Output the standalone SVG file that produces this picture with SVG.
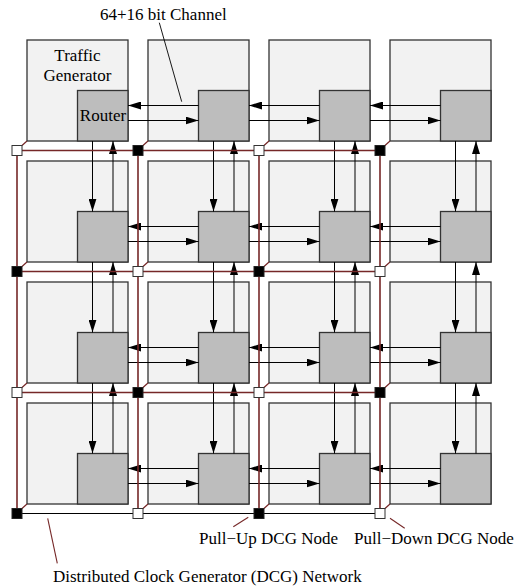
<svg xmlns="http://www.w3.org/2000/svg" width="524" height="586" viewBox="0 0 524 586">
<style>
.tile{fill:#f2f2f2;stroke:#333;stroke-width:1.3}
.rt{fill:#bdbdbd;stroke:#333;stroke-width:1.3}
.ch{stroke:#000;stroke-width:1;fill:none;marker-end:url(#ah)}
.dcg{stroke:#762828;stroke-width:1.6;fill:none}
.dcgb{stroke:#000;stroke-width:1.2;fill:none}
.diag{stroke:#762828;stroke-width:1.2}
.nw{fill:#fff;stroke:#333;stroke-width:1}
.nb{fill:#000;stroke:#222;stroke-width:1}
.lead{stroke:#000;stroke-width:0.9}
.leadr{stroke:#762828;stroke-width:1.1}
text{font-family:"Liberation Serif","Times New Roman",serif;font-size:17px;fill:#000}
</style>
<defs>
<marker id="ah" markerWidth="13" markerHeight="8" refX="13" refY="4" orient="auto" markerUnits="userSpaceOnUse"><path d="M0,0 L13,4 L0,8 z" fill="#000"/></marker>
</defs>

<g id="tiles">
<g id="tile-0-0"><rect class="tile" x="27" y="40" width="101" height="101"/><rect class="rt" x="77.5" y="90.5" width="50.5" height="50.5"/></g>
<g id="tile-1-0"><rect class="tile" x="148" y="40" width="101" height="101"/><rect class="rt" x="198.5" y="90.5" width="50.5" height="50.5"/></g>
<g id="tile-2-0"><rect class="tile" x="269" y="40" width="101" height="101"/><rect class="rt" x="319.5" y="90.5" width="50.5" height="50.5"/></g>
<g id="tile-3-0"><rect class="tile" x="390" y="40" width="101" height="101"/><rect class="rt" x="440.5" y="90.5" width="50.5" height="50.5"/></g>
<g id="tile-0-1"><rect class="tile" x="27" y="161" width="101" height="101"/><rect class="rt" x="77.5" y="211.5" width="50.5" height="50.5"/></g>
<g id="tile-1-1"><rect class="tile" x="148" y="161" width="101" height="101"/><rect class="rt" x="198.5" y="211.5" width="50.5" height="50.5"/></g>
<g id="tile-2-1"><rect class="tile" x="269" y="161" width="101" height="101"/><rect class="rt" x="319.5" y="211.5" width="50.5" height="50.5"/></g>
<g id="tile-3-1"><rect class="tile" x="390" y="161" width="101" height="101"/><rect class="rt" x="440.5" y="211.5" width="50.5" height="50.5"/></g>
<g id="tile-0-2"><rect class="tile" x="27" y="282" width="101" height="101"/><rect class="rt" x="77.5" y="332.5" width="50.5" height="50.5"/></g>
<g id="tile-1-2"><rect class="tile" x="148" y="282" width="101" height="101"/><rect class="rt" x="198.5" y="332.5" width="50.5" height="50.5"/></g>
<g id="tile-2-2"><rect class="tile" x="269" y="282" width="101" height="101"/><rect class="rt" x="319.5" y="332.5" width="50.5" height="50.5"/></g>
<g id="tile-3-2"><rect class="tile" x="390" y="282" width="101" height="101"/><rect class="rt" x="440.5" y="332.5" width="50.5" height="50.5"/></g>
<g id="tile-0-3"><rect class="tile" x="27" y="403" width="101" height="101"/><rect class="rt" x="77.5" y="453.5" width="50.5" height="50.5"/></g>
<g id="tile-1-3"><rect class="tile" x="148" y="403" width="101" height="101"/><rect class="rt" x="198.5" y="453.5" width="50.5" height="50.5"/></g>
<g id="tile-2-3"><rect class="tile" x="269" y="403" width="101" height="101"/><rect class="rt" x="319.5" y="453.5" width="50.5" height="50.5"/></g>
<g id="tile-3-3"><rect class="tile" x="390" y="403" width="101" height="101"/><rect class="rt" x="440.5" y="453.5" width="50.5" height="50.5"/></g>
</g>

<g id="channels">
<line class="ch" x1="198.5" y1="105.5" x2="128" y2="105.5"/><line class="ch" x1="128" y1="120.5" x2="198.5" y2="120.5"/>
<line class="ch" x1="319.5" y1="105.5" x2="249" y2="105.5"/><line class="ch" x1="249" y1="120.5" x2="319.5" y2="120.5"/>
<line class="ch" x1="440.5" y1="105.5" x2="370" y2="105.5"/><line class="ch" x1="370" y1="120.5" x2="440.5" y2="120.5"/>
<line class="ch" x1="198.5" y1="226.5" x2="128" y2="226.5"/><line class="ch" x1="128" y1="241.5" x2="198.5" y2="241.5"/>
<line class="ch" x1="319.5" y1="226.5" x2="249" y2="226.5"/><line class="ch" x1="249" y1="241.5" x2="319.5" y2="241.5"/>
<line class="ch" x1="440.5" y1="226.5" x2="370" y2="226.5"/><line class="ch" x1="370" y1="241.5" x2="440.5" y2="241.5"/>
<line class="ch" x1="198.5" y1="347.5" x2="128" y2="347.5"/><line class="ch" x1="128" y1="362.5" x2="198.5" y2="362.5"/>
<line class="ch" x1="319.5" y1="347.5" x2="249" y2="347.5"/><line class="ch" x1="249" y1="362.5" x2="319.5" y2="362.5"/>
<line class="ch" x1="440.5" y1="347.5" x2="370" y2="347.5"/><line class="ch" x1="370" y1="362.5" x2="440.5" y2="362.5"/>
<line class="ch" x1="198.5" y1="468.5" x2="128" y2="468.5"/><line class="ch" x1="128" y1="483.5" x2="198.5" y2="483.5"/>
<line class="ch" x1="319.5" y1="468.5" x2="249" y2="468.5"/><line class="ch" x1="249" y1="483.5" x2="319.5" y2="483.5"/>
<line class="ch" x1="440.5" y1="468.5" x2="370" y2="468.5"/><line class="ch" x1="370" y1="483.5" x2="440.5" y2="483.5"/>

<line class="ch" x1="92.5" y1="141" x2="92.5" y2="211.5"/><line class="ch" x1="113" y1="211.5" x2="113" y2="141"/>
<line class="ch" x1="92.5" y1="262" x2="92.5" y2="332.5"/><line class="ch" x1="113" y1="332.5" x2="113" y2="262"/>
<line class="ch" x1="92.5" y1="383" x2="92.5" y2="453.5"/><line class="ch" x1="113" y1="453.5" x2="113" y2="383"/>
<line class="ch" x1="213.5" y1="141" x2="213.5" y2="211.5"/><line class="ch" x1="234" y1="211.5" x2="234" y2="141"/>
<line class="ch" x1="213.5" y1="262" x2="213.5" y2="332.5"/><line class="ch" x1="234" y1="332.5" x2="234" y2="262"/>
<line class="ch" x1="213.5" y1="383" x2="213.5" y2="453.5"/><line class="ch" x1="234" y1="453.5" x2="234" y2="383"/>
<line class="ch" x1="334.5" y1="141" x2="334.5" y2="211.5"/><line class="ch" x1="355" y1="211.5" x2="355" y2="141"/>
<line class="ch" x1="334.5" y1="262" x2="334.5" y2="332.5"/><line class="ch" x1="355" y1="332.5" x2="355" y2="262"/>
<line class="ch" x1="334.5" y1="383" x2="334.5" y2="453.5"/><line class="ch" x1="355" y1="453.5" x2="355" y2="383"/>
<line class="ch" x1="455.5" y1="141" x2="455.5" y2="211.5"/><line class="ch" x1="476" y1="211.5" x2="476" y2="141"/>
<line class="ch" x1="455.5" y1="262" x2="455.5" y2="332.5"/><line class="ch" x1="476" y1="332.5" x2="476" y2="262"/>
<line class="ch" x1="455.5" y1="383" x2="455.5" y2="453.5"/><line class="ch" x1="476" y1="453.5" x2="476" y2="383"/>
</g>

<g id="dcg-network">
<path class="dcg" d="M17,150.5H380M17,271.5H380M17,392.5H380M17,150.5V513.5M138,150.5V513.5M259,150.5V513.5M380,150.5V513.5"/>
<path class="dcgb" d="M17,513.5H380"/>
<path class="diag" d="M22,145.5L27,141M143,145.5L148,141M264,145.5L269,141M385,145.5L390,141M22,266.5L27,262M143,266.5L148,262M264,266.5L269,262M385,266.5L390,262M22,387.5L27,383M143,387.5L148,383M264,387.5L269,383M385,387.5L390,383M22,508.5L27,504M143,508.5L148,504M264,508.5L269,504M385,508.5L390,504"/>
</g>

<g id="dcg-nodes">
<g id="dcg-0-0"><rect class="nw" x="12" y="145.5" width="10" height="10"/></g>
<g id="dcg-1-0"><rect class="nb" x="133" y="145.5" width="10" height="10"/></g>
<g id="dcg-2-0"><rect class="nw" x="254" y="145.5" width="10" height="10"/></g>
<g id="dcg-3-0"><rect class="nb" x="375" y="145.5" width="10" height="10"/></g>
<g id="dcg-0-1"><rect class="nb" x="12" y="266.5" width="10" height="10"/></g>
<g id="dcg-1-1"><rect class="nw" x="133" y="266.5" width="10" height="10"/></g>
<g id="dcg-2-1"><rect class="nb" x="254" y="266.5" width="10" height="10"/></g>
<g id="dcg-3-1"><rect class="nw" x="375" y="266.5" width="10" height="10"/></g>
<g id="dcg-0-2"><rect class="nw" x="12" y="387.5" width="10" height="10"/></g>
<g id="dcg-1-2"><rect class="nb" x="133" y="387.5" width="10" height="10"/></g>
<g id="dcg-2-2"><rect class="nw" x="254" y="387.5" width="10" height="10"/></g>
<g id="dcg-3-2"><rect class="nb" x="375" y="387.5" width="10" height="10"/></g>
<g id="dcg-0-3"><rect class="nb" x="12" y="508.5" width="10" height="10"/></g>
<g id="dcg-1-3"><rect class="nw" x="133" y="508.5" width="10" height="10"/></g>
<g id="dcg-2-3"><rect class="nb" x="254" y="508.5" width="10" height="10"/></g>
<g id="dcg-3-3"><rect class="nw" x="375" y="508.5" width="10" height="10"/></g>
</g>

<g id="labels">
<text x="77.5" y="60.5" text-anchor="middle">Traffic</text>
<text x="77.5" y="81" text-anchor="middle">Generator</text>
<text x="103" y="120.7" text-anchor="middle">Router</text>
<text x="100" y="20">64+16 bit Channel</text>
<line class="lead" x1="159.3" y1="22.7" x2="181.7" y2="101.7"/>
<text x="199" y="544">Pull−Up DCG Node</text>
<line class="leadr" x1="233.3" y1="526.7" x2="248.3" y2="517.3"/>
<text x="354" y="544">Pull−Down DCG Node</text>
<line class="leadr" x1="390" y1="518.3" x2="404.7" y2="528.3"/>
<text x="53" y="581.5">Distributed Clock Generator (DCG) Network</text>
<line class="leadr" x1="47.7" y1="518.3" x2="57.3" y2="563.3"/>
</g>
</svg>
